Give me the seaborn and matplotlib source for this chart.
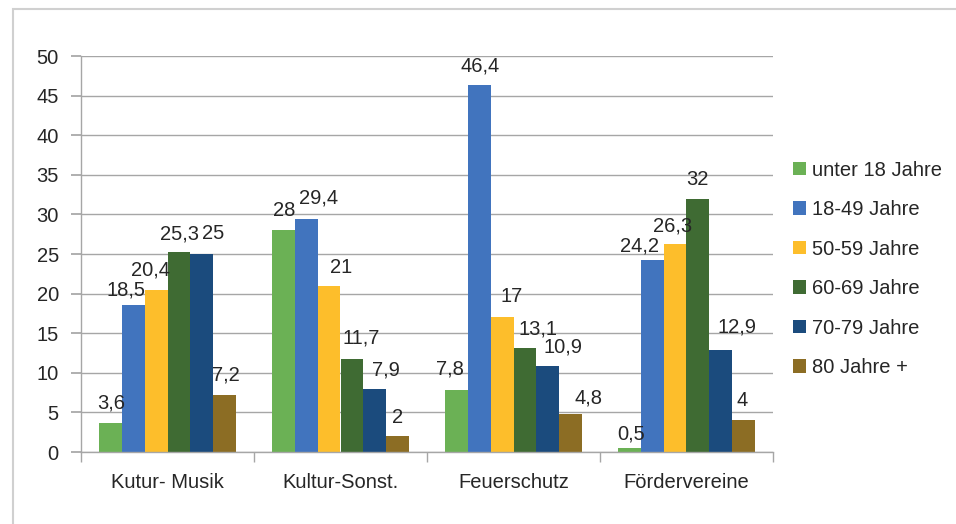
import matplotlib
matplotlib.use("Agg")
import matplotlib.pyplot as plt
from matplotlib.patches import Rectangle
import seaborn as sns
import pandas as pd

categories = ["Kutur- Musik", "Kultur-Sonst.", "Feuerschutz", "Fördervereine"]
series = ["unter 18 Jahre", "18-49 Jahre", "50-59 Jahre", "60-69 Jahre", "70-79 Jahre", "80 Jahre +"]
unter18 = [3.6, 28, 7.8, 0.5]
j18_49 = [18.5, 29.4, 46.4, 24.2]
j50_59 = [20.4, 21, 17, 26.3]
j60_69 = [25.3, 11.7, 13.1, 32]
j70_79 = [25, 7.9, 10.9, 12.9]
j80 = [7.2, 2, 4.8, 4]
yticks = [0, 5, 10, 15, 20, 25, 30, 35, 40, 45, 50]
colors = ["#6BB155", "#4174BE", "#FDBE2B", "#3F6B33", "#1B4B7D", "#8C6D24"]

# label placement (style): (dx px, gap px above bar) per series, per category
label_offsets = [
    [(0, 14.5), (0.5, 14.7), (-6.7, 15.7), (1.3, 9)],
    [(-7.5, 9.7), (12.5, 16), (0.7, 12.6), (-13.2, 9.3)],
    [(-5.2, 14.7), (11.7, 12.4), (9.3, 15), (-3, 12)],
    [(0.3, 12.3), (9, 16), (13.3, 14), (0, 14)],
    [(12, 15), (11.7, 14.3), (15.3, 13.3), (16, 17.7)],
    [(2, 14), (0, 13.3), (18, 10.3), (-1, 14)],
]

values = [unter18, j18_49, j50_59, j60_69, j70_79, j80]
rows = []
for s, vals in zip(series, values):
    for c, v in zip(categories, vals):
        rows.append({"Kategorie": c, "Alter": s, "Wert": v})
df = pd.DataFrame(rows)

sns.set_theme(style="white")
plt.rcParams["font.family"] = ["Liberation Sans", "DejaVu Sans"]
plt.rcParams["text.color"] = "#262626"

FS = 14.5
PX = 0.72  # points per pixel at dpi 100

fig = plt.figure(figsize=(9.56, 5.24), dpi=100)
ax = fig.add_axes([81/956, 1-452/524, (773-81)/956, (452-56)/524])

sns.barplot(data=df, x="Kategorie", y="Wert", hue="Alter", order=categories,
            hue_order=series, palette=colors, width=0.787, ax=ax,
            saturation=1, edgecolor="none", linewidth=0, legend=True)

for i, cont in enumerate(ax.containers):
    for j, (bar, v) in enumerate(zip(cont.patches, cont.datavalues)):
        dx, gap = label_offsets[i][j]
        ax.annotate(f"{v:g}".replace(".", ","),
                    (bar.get_x() + bar.get_width() / 2, bar.get_height()),
                    xytext=(dx * PX, gap * PX), textcoords="offset points",
                    ha="center", va="baseline", fontsize=FS, color="#262626")

ax.set_ylim(0, 50)
ax.set_xlim(-0.5, 3.5)
ax.set_yticks(yticks)
ax.set_yticklabels([str(t) for t in yticks])
ax.yaxis.grid(True, color="#A6A6A6", linewidth=1)
ax.set_axisbelow(True)
for side in ["top", "right"]:
    ax.spines[side].set_visible(False)
for side in ["left", "bottom"]:
    ax.spines[side].set_color("#A6A6A6")
    ax.spines[side].set_linewidth(1)
ax.tick_params(axis="y", which="major", left=True, length=7, color="#A6A6A6",
               labelsize=FS, labelcolor="#262626", pad=9)
ax.set_xticks([-0.5, 0.5, 1.5, 2.5, 3.5], minor=True)
ax.tick_params(axis="x", which="minor", bottom=True, length=7, color="#A6A6A6")
ax.tick_params(axis="x", which="major", bottom=False, length=0, labelsize=FS,
               labelcolor="#262626", pad=15)
ax.set_xlabel("")
ax.set_ylabel("")

handles, labels = ax.get_legend_handles_labels()
ax.legend(handles, labels, loc="upper left", bbox_to_anchor=(785/956, 1-152.5/524),
          bbox_transform=fig.transFigure, frameon=False, fontsize=FS,
          handlelength=0.65, handleheight=0.65, handletextpad=0.3,
          labelspacing=1.02, borderaxespad=0)

fig.patches.append(Rectangle((13/956, -0.05), 1.1, 1.05 - 9/524, transform=fig.transFigure,
                             fill=False, edgecolor="#D0D0D0", linewidth=1.5, zorder=0))

fig.savefig("out.png", dpi=100)
